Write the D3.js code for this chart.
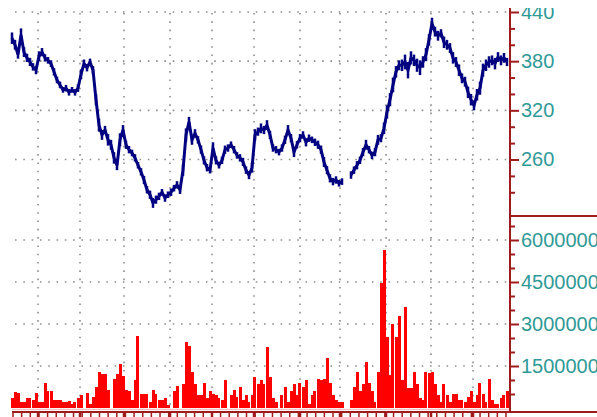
<!DOCTYPE html>
<html><head><meta charset="utf-8">
<script src="https://cdn.jsdelivr.net/npm/d3@7"></script>
<style>html,body{margin:0;padding:0;background:#fff;overflow:hidden}</style>
</head><body>
<svg id="c" width="597" height="417"></svg>
<script>
// daily close (sampled) and volume (millions); null = no trading
const closePrice = [408,400,388,412,391,384,379,373,369,386,391,384,381,377,367,357,351,345,347,342,
345,342,347,364,377,372,379,369,333,302,290,296,284,278,262,253,284,296,278,272,
268,262,253,245,235,223,217,207,211,215,220,213,217,220,225,229,223,247,290,306,
284,292,284,272,259,250,247,274,259,253,259,272,274,278,272,265,262,257,247,241,
250,290,294,298,296,302,290,274,272,269,274,284,296,286,269,278,286,290,281,286,
284,281,278,272,257,247,237,233,235,231,233,null,null,241,247,253,259,269,278,272,
265,269,284,286,298,318,333,351,367,375,375,379,369,384,381,375,372,379,388,406,
426,416,411,414,403,400,396,384,379,369,359,355,342,333,326,339,347,369,375,379,
381,377,385,381,384,379];
// daily high-low range (price units)
const dayRange = [14,12,10,16,12,10,10,9,10,12,
10,9,8,8,9,8,8,7,8,8,
7,8,9,12,10,9,8,10,14,16,
12,10,14,12,14,12,16,12,10,9,
8,9,8,9,10,9,10,12,10,9,
8,9,8,9,8,9,10,14,16,12,
12,10,9,10,10,9,8,14,10,8,
9,10,9,8,9,8,9,10,9,10,
12,14,10,12,10,12,10,9,9,8,
9,10,12,10,12,9,10,9,10,9,
8,9,10,10,12,10,10,9,9,8,
8,null,null,9,9,10,9,10,12,9,
9,10,12,10,14,16,16,18,14,12,
14,18,20,16,14,16,18,14,16,14,
14,12,12,10,14,12,12,14,12,14,
12,12,14,14,12,14,16,16,14,14,
12,14,12,12,12,10];
const volumeM = [0.35,0.58,0.53,0.22,0.22,0.35,0.35,0.3,0.53,0.22,0.22,0.9,0.6,0.6,0.3,0.3,0.3,0.2,0.2,0.25,
0.15,0.2,0.35,0.45,0,0.53,0.15,0.4,0.75,1.3,1.2,1.2,0.65,0,1.05,1.2,1.57,1.15,0.65,0.6,
0.3,1.0,2.57,0.5,0.5,0.5,0.2,0.65,0.5,0.3,0.3,0.35,0.1,0,0.6,0.8,0,0.85,2.37,2.2,
1.3,0.85,0.45,0.45,0.9,0.35,0.6,0.5,0.45,0.35,0.3,1.0,0,0.45,0.65,0.4,0.75,0.3,0.45,0.2,
0.45,1.1,0.85,1.0,0.85,2.17,1.1,0.35,0.2,0,0.45,0.75,0.2,0.6,0.85,0.45,0.9,0.75,1.0,0.15,
0.45,0.6,1.05,1.0,1.05,1.8,0.9,0.45,0.3,0.2,0.2,null,null,0.3,0.75,1.3,0.6,0.85,1.65,0.9,
0.6,0.2,1.3,4.45,5.64,2.55,1.18,3.0,2.55,3.3,1.0,3.6,0.7,0.7,1.3,0.85,0.35,0.3,1.3,1.25,
1.3,0.85,0.45,0.2,0.85,0.45,0.2,0.5,0.5,0.3,0.3,0.2,0.4,0.6,0.2,0.45,0.9,0.5,0.2,1.05,
0.3,0.15,0.15,0.35,0.45,0.6];
// month boundaries (in trading-day index units)
const monthStarts = [8.67,22.67,37.33,52.67,66.67,80.67,96,109.33,124.67,139.67,153.67];
const priceTicks = [440,380,320,260];
const priceMinor = [420,400,360,340,300,280,240,220];
const volTicks = [6000000,4500000,3000000,1500000];
const volMinor = [6500000,5500000,5000000,4000000,3500000,2500000,2000000,1000000,500000];

const svg = d3.select("#c");
const axisCol = "#a01c1c", labCol = "#2f9a97", gridCol = "#8e8e8e";
const axisX = 510;
const x = d3.scaleLinear().domain([0, closePrice.length-1]).range([12, 507]);
const yP = d3.scaleLinear().domain([260, 440]).range([159.5, 12]);
const yV = d3.scaleLinear().domain([0, 6000000]).range([408, 240]);

svg.append("defs").append("clipPath").attr("id","clip")
  .append("rect").attr("x",0).attr("y",8).attr("width",597).attr("height",417);
const g = svg.append("g").attr("clip-path","url(#clip)");

const dash = "1.6,6.7";
const hg = g.append("g");
priceTicks.forEach(v=>hg.append("line").attr("x1",15).attr("x2",axisX).attr("y1",yP(v)).attr("y2",yP(v)));
volTicks.forEach(v=>hg.append("line").attr("x1",15).attr("x2",axisX).attr("y1",yV(v)).attr("y2",yV(v)));
monthStarts.forEach(m=>hg.append("line").attr("x1",x(m)).attr("x2",x(m)).attr("y1",13).attr("y2",406));
hg.selectAll("line").attr("stroke",gridCol).attr("stroke-width",1.6).attr("stroke-dasharray",dash);

// volume bars
const step = x(1)-x(0);
g.append("g").attr("shape-rendering","crispEdges").selectAll("rect")
  .data(volumeM.map((v,i)=>({v,i})).filter(d=>d.v))
  .join("rect")
  .attr("x",d=>Math.round(x(d.i)-step/2)).attr("width",Math.round(step))
  .attr("y",d=>Math.round(yV(d.v*1e6))).attr("height",d=>yV(0)-Math.round(yV(d.v*1e6)))
  .attr("fill","#ff0000");
g.append("line").attr("x1",12).attr("x2",axisX).attr("y1",409.5).attr("y2",409.5)
  .attr("stroke","#f6c4c4").attr("stroke-width",1.5);

// price: high-low sticks + close line
const pg = g.append("g");
pg.selectAll("line").data(closePrice.map((c,i)=>({c,i,r:dayRange[i]})).filter(d=>d.c!=null))
  .join("line")
  .attr("x1",d=>x(d.i)).attr("x2",d=>x(d.i))
  .attr("y1",d=>yP(d.c+d.r/2)).attr("y2",d=>yP(d.c-d.r/2))
  .attr("stroke","#000080").attr("stroke-width",2.5);
const line = d3.line().defined(d=>d!=null).x((d,i)=>x(i)).y(d=>yP(d));
pg.append("path").datum(closePrice).attr("d",line)
  .attr("fill","none").attr("stroke","#000080").attr("stroke-width",3).attr("stroke-linejoin","miter");

function styleAxis(sel){
  sel.select(".domain").remove();
  sel.selectAll("line").attr("stroke",axisCol).attr("stroke-width",2);
  sel.selectAll("text").attr("fill",labCol).style("font-family","'Liberation Sans',Arial,sans-serif")
    .style("font-size","20px");
}
g.append("g").attr("transform",`translate(${axisX},0)`)
  .call(d3.axisRight(yP).tickValues(priceMinor).tickSize(5).tickFormat("")).call(styleAxis);
g.append("g").attr("transform",`translate(${axisX},0)`)
  .call(d3.axisRight(yP).tickValues(priceTicks).tickSize(9).tickPadding(2).tickFormat(d3.format("d"))).call(styleAxis);
g.append("g").attr("transform",`translate(${axisX},0)`)
  .call(d3.axisRight(yV).tickValues(volMinor).tickSize(5).tickFormat("")).call(styleAxis);
g.append("g").attr("transform",`translate(${axisX},0)`)
  .call(d3.axisRight(yV).tickValues(volTicks).tickSize(9).tickPadding(2).tickFormat(d3.format("d"))).call(styleAxis);

g.append("line").attr("x1",axisX).attr("x2",axisX).attr("y1",8).attr("y2",413).attr("stroke",axisCol).attr("stroke-width",2);
g.append("line").attr("x1",axisX).attr("x2",597).attr("y1",216).attr("y2",216).attr("stroke",axisCol).attr("stroke-width",2);
g.append("line").attr("x1",12).attr("x2",597).attr("y1",412).attr("y2",412).attr("stroke",axisCol).attr("stroke-width",2);

const weekTicks = d3.range(0.33, closePrice.length, 2.883);
const bx = g.append("g");
weekTicks.filter(t=>x(t)<axisX-3).forEach(t=>bx.append("line").attr("x1",x(t)).attr("x2",x(t)).attr("y1",412).attr("y2",417).attr("stroke",axisCol).attr("stroke-width",1.5));
monthStarts.forEach(t=>bx.append("line").attr("x1",x(t)).attr("x2",x(t)).attr("y1",412).attr("y2",417).attr("stroke",axisCol).attr("stroke-width",2.5));
</script>
</body></html>
